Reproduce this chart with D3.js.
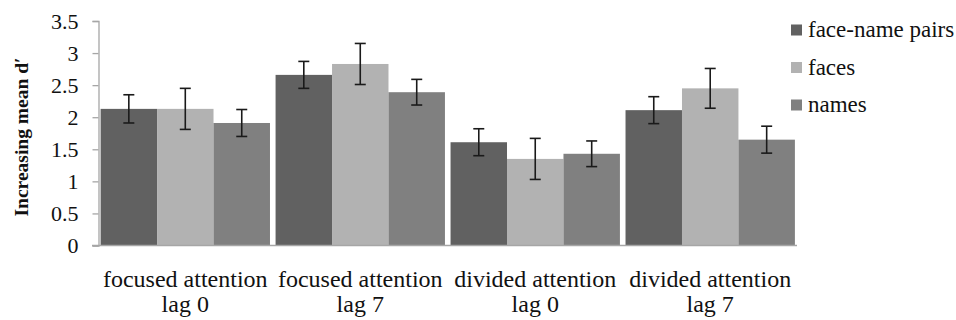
<!DOCTYPE html>
<html><head><meta charset="utf-8">
<script src="https://cdn.jsdelivr.net/npm/d3@7/dist/d3.min.js"></script>
<style>
body{margin:0;background:#fff;}
</style></head>
<body><svg id="c" width="956" height="320"></svg>
<script>
const categories = [["focused attention","lag 0"],["focused attention","lag 7"],["divided attention","lag 0"],["divided attention","lag 7"]];
const seriesNames = ["face-name pairs","faces","names"];
const seriesColors = ["#616161","#b2b2b2","#808080"];
const faceNamePairs = [2.13, 2.66, 1.61, 2.11];
const faces = [2.13, 2.83, 1.35, 2.45];
const names = [1.91, 2.39, 1.43, 1.65];
const faceNamePairsErr = [0.22, 0.21, 0.21, 0.21];
const facesErr = [0.32, 0.32, 0.32, 0.31];
const namesErr = [0.21, 0.20, 0.20, 0.21];
const yTicks = [0,0.5,1,1.5,2,2.5,3,3.5];
const yTitle = "Increasing mean d′";

const FONT = "'Liberation Serif','Times New Roman',serif";
const values = [faceNamePairs, faces, names];
const errs = [faceNamePairsErr, facesErr, namesErr];
const svg = d3.select("#c");
const x0 = d3.scaleBand().domain(d3.range(categories.length)).range([98.5, 797]).paddingInner(0.032).paddingOuter(0.012);
const x1 = d3.scaleBand().domain(d3.range(seriesNames.length)).range([0, x0.bandwidth()]);
const y = d3.scaleLinear().domain([0,3.5]).range([245.5, 21]);

function label(x, yy, str, anchor, fs){
  return svg.append("text").attr("x",x).attr("y",yy).attr("text-anchor",anchor).attr("font-size",fs)
    .style("font-family",FONT).attr("fill","#111").text(str);
}

// bars
const g = svg.append("g");
categories.forEach((c,i)=>{
  seriesNames.forEach((s,j)=>{
    const v = values[j][i];
    g.append("rect").attr("x", x0(i)+x1(j)).attr("width", x1.bandwidth())
      .attr("y", y(v)).attr("height", y(0)-y(v)).attr("fill", seriesColors[j]);
  });
});
// error bars
categories.forEach((c,i)=>{
  seriesNames.forEach((s,j)=>{
    const v = values[j][i], e = errs[j][i];
    const cx = x0(i)+x1(j)+x1.bandwidth()/2;
    const eg = svg.append("g").attr("stroke","#1a1a1a").attr("stroke-width",1.6);
    eg.append("line").attr("x1",cx).attr("x2",cx).attr("y1",y(v+e)).attr("y2",y(v-e));
    eg.append("line").attr("x1",cx-5.5).attr("x2",cx+5.5).attr("y1",y(v+e)).attr("y2",y(v+e));
    eg.append("line").attr("x1",cx-5.5).attr("x2",cx+5.5).attr("y1",y(v-e)).attr("y2",y(v-e));
  });
});

// y axis
const ya = svg.append("g").attr("transform","translate(98.5,0)")
  .call(d3.axisLeft(y).tickValues(yTicks).tickSize(6).tickPadding(14).tickFormat(d=>String(d)));
ya.select(".domain").attr("stroke","#a6a6a6").attr("stroke-width",1.3);
ya.selectAll(".tick line").attr("stroke","#a6a6a6").attr("stroke-width",1.3);
ya.selectAll(".tick text")
  .attr("font-size",22).style("font-family",FONT).attr("fill","#111").attr("x",-20);

// x baseline
svg.append("line").attr("x1",92).attr("x2",797).attr("y1",y(0)).attr("y2",y(0)).attr("stroke","#a6a6a6").attr("stroke-width",1.3);

// x labels
categories.forEach((c,i)=>{
  const cx = x0(i)+x0.bandwidth()/2;
  label(cx, 287, c[0], "middle", 24);
  label(cx, 312, c[1], "middle", 24);
});

// y title
svg.append("text").attr("transform","translate(28,137) rotate(-90)").attr("text-anchor","middle")
  .attr("font-size",19.5).attr("font-weight","bold").style("font-family",FONT).attr("fill","#111").text(yTitle);

// legend
seriesNames.forEach((s,j)=>{
  const ly = 30 + j*37.5;
  svg.append("rect").attr("x",791).attr("y",ly-5.5).attr("width",11).attr("height",11).attr("fill",seriesColors[j]);
  label(808, ly+7, s, "start", 23);
});
</script></body></html>
